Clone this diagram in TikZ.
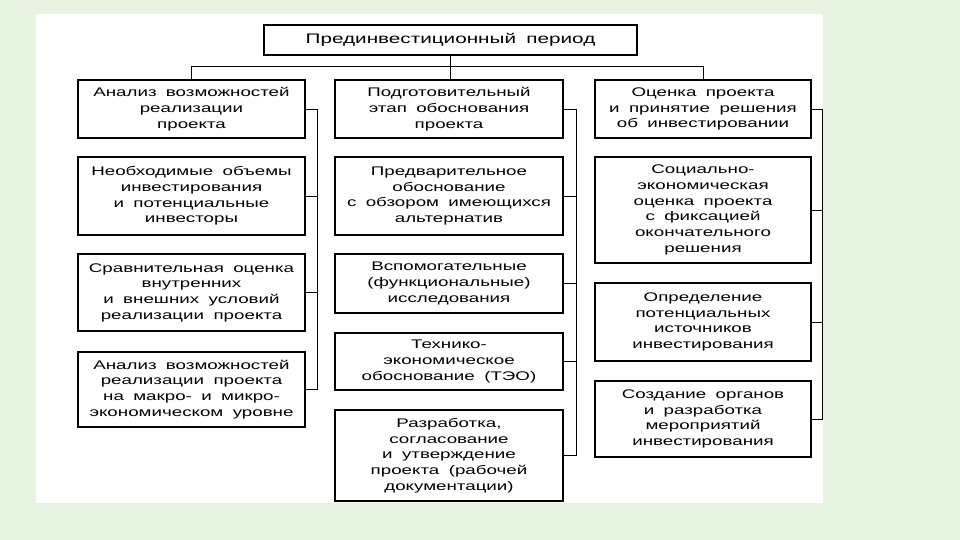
\documentclass[tikz,border=0pt]{standalone}
\usepackage{fontspec}
\setmainfont{Liberation Sans}[FakeStretch=1.5,WordSpace=1.8]
\definecolor{bggreen}{RGB}{230,243,224}
\begin{document}
\begin{tikzpicture}[x=1pt,y=-1pt,
  box/.style={draw=black,line width=1.6pt,fill=white,inner sep=0pt,align=center,
    font=\fontsize{12.5}{15.7}\selectfont},
  conn/.style={draw=black,line width=0.8pt}]
\useasboundingbox (0,0) rectangle (960,540);
\fill[bggreen] (0,0) rectangle (960,540);
\fill[white] (36,14) rectangle (823,503);

\node[box,minimum width=373,minimum height=30,font=\fontsize{13.8}{16}\selectfont] (top) at (450.5,40) {Прединвестиционный период};

% left column
\node[box,minimum width=227,minimum height=58] (l1) at (191.5,109) {Анализ возможностей\\реализации\\проекта};
\node[box,minimum width=227,minimum height=78] (l2) at (191.5,196) {Необходимые объемы\\инвестирования\\и потенциальные\\инвесторы};
\node[box,minimum width=227,minimum height=77] (l3) at (191.5,292.5) {Сравнительная оценка\\внутренних\\и внешних условий\\реализации проекта};
\node[box,minimum width=227,minimum height=75] (l4) at (191.5,389.5) {Анализ возможностей\\реализации проекта\\на макро- и микро-\\экономическом уровне};

% middle column
\node[box,minimum width=228,minimum height=58] (m1) at (449,109) {Подготовительный\\этап обоснования\\проекта};
\node[box,minimum width=228,minimum height=78] (m2) at (449,196) {Предварительное\\обоснование\\с обзором имеющихся\\альтернатив};
\node[box,minimum width=228,minimum height=59] (m3) at (449,283.5) {Вспомогательные\\(функциональные)\\исследования};
\node[box,minimum width=228,minimum height=57] (m4) at (449,361.5) {Технико-\\экономическое\\обоснование (ТЭО)};
\node[box,minimum width=228,minimum height=91] (m5) at (449,455.5) {Разработка,\\согласование\\и утверждение\\проекта (рабочей\\документации)};

% right column
\node[box,minimum width=216,minimum height=58] (r1) at (703,109) {Оценка проекта\\и принятие решения\\об инвестировании};
\node[box,minimum width=216,minimum height=106] (r2) at (703,210) {Социально-\\экономическая\\оценка проекта\\с фиксацией\\окончательного\\решения};
\node[box,minimum width=216,minimum height=78] (r3) at (703,322) {Определение\\потенциальных\\источников\\инвестирования};
\node[box,minimum width=216,minimum height=76] (r4) at (703,419) {Создание органов\\и разработка\\мероприятий\\инвестирования};

\coordinate (lx) at (317,0);
\coordinate (mx) at (576,0);
\coordinate (rx) at (822,0);

% top connectors
\draw[conn] (top.south) -- (top.south |- m1.north);
\draw[conn] (l1.north) -- ++(0,-13) -| (r1.north);

% left spine
\draw[conn] (l1.east) -| (l4.east -| lx) -- (l4.east);
\draw[conn] (l2.east) -- (l2.east -| lx);
\draw[conn] (l3.east) -- (l3.east -| lx);

% middle spine
\draw[conn] (m1.east) -| (m5.east -| mx) -- (m5.east);
\draw[conn] (m2.east) -- (m2.east -| mx);
\draw[conn] (m3.east) -- (m3.east -| mx);
\draw[conn] (m4.east) -- (m4.east -| mx);

% right spine
\draw[conn] (r1.east) -| (r4.east -| rx) -- (r4.east);
\draw[conn] (r2.east) -- (r2.east -| rx);
\draw[conn] (r3.east) -- (r3.east -| rx);
\end{tikzpicture}
\end{document}
